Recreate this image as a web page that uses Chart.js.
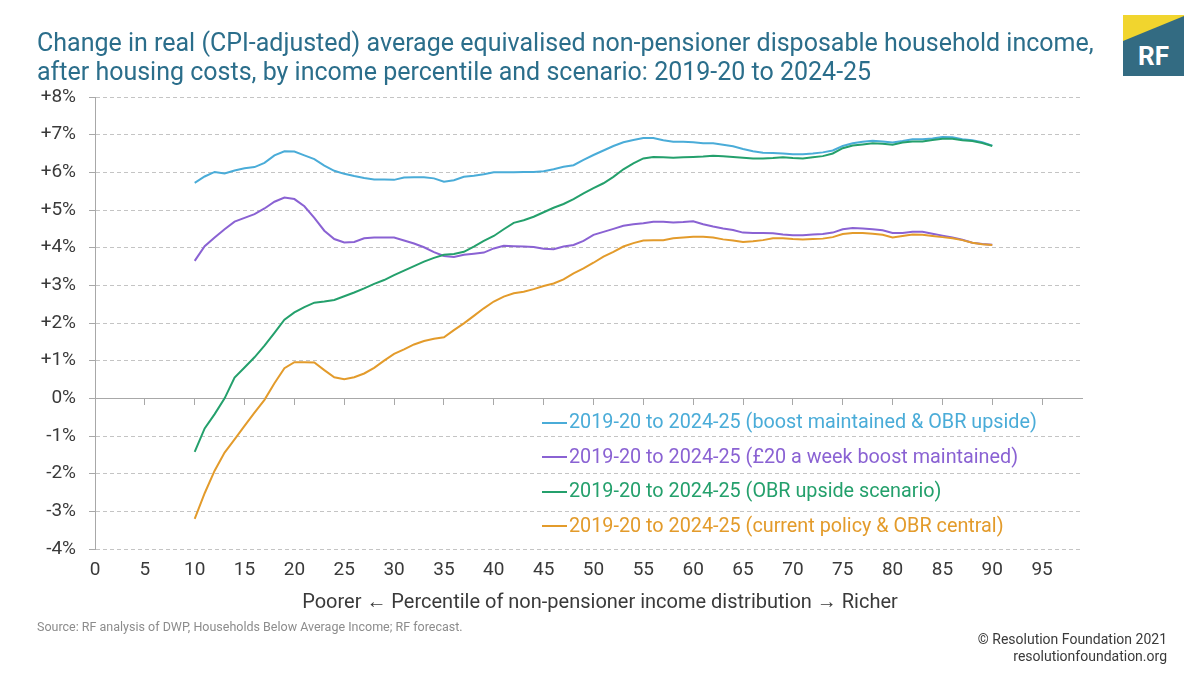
<!DOCTYPE html>
<html>
<head>
<meta charset="utf-8">
<script src="https://cdn.jsdelivr.net/npm/chart.js@4.4.1/dist/chart.umd.min.js"></script>
<style>
  body { margin: 0; background: #fff; font-family: Roboto, "Noto Sans", sans-serif; }
  #wrap { position: relative; width: 1200px; height: 675px; overflow: hidden; }
  #myChart { position: absolute; left: 0; top: 0; }
  .title { position: absolute; left: 37px; top: 28px; font-size: 25px; line-height: 29px; color: #2b6e8b; white-space: nowrap; }
  .xtitle { position: absolute; left: 0; width: 1200px; top: 589px; text-align: center; font-size: 20px; line-height: 24px; color: #3a3a3a; }
  .source { position: absolute; left: 37px; top: 619px; font-size: 12.5px; line-height: 16px; color: #8c8c8c; }
  .copy { position: absolute; right: 33px; top: 631px; font-size: 14px; line-height: 17px; color: #3a3a3a; text-align: right; }
  .logo { position: absolute; left: 1123px; top: 15px; }
  #legend { position: absolute; left: 542px; top: 405px; }
  .row { height: 34.5px; line-height: 34.5px; font-size: 19.8px; white-space: nowrap; }
  .row span.mark { display: inline-block; width: 25px; height: 2px; vertical-align: middle; margin-right: 2px; }
</style>
</head>
<body>
<div id="wrap">
  <canvas id="myChart" width="1200" height="675"></canvas>
  <div class="title">Change in real (CPI-adjusted) average equivalised non-pensioner disposable household income,<br>after housing costs, by income percentile and scenario: 2019-20 to 2024-25</div>
  <svg class="logo" width="61" height="61" viewBox="0 0 61 61">
    <rect x="0" y="0" width="61" height="61" fill="#336b82"/>
    <polygon points="0,0 61,0 61,1 0,26" fill="#f1d52e"/>
    <text x="30.5" y="50" text-anchor="middle" font-family="Roboto, sans-serif" font-weight="bold" font-size="26" fill="#fff">RF</text>
  </svg>
  <div id="legend"></div>
  <div class="xtitle">Poorer ← Percentile of non-pensioner income distribution → Richer</div>
  <div class="source">Source: RF analysis of DWP, Households Below Average Income; RF forecast.</div>
  <div class="copy">© Resolution Foundation 2021<br>resolutionfoundation.org</div>
</div>
<script>
// percentiles of the non-pensioner income distribution
const percentiles = [10, 11, 12, 13, 14, 15, 16, 17, 18, 19, 20, 21, 22, 23, 24, 25, 26, 27, 28, 29,
  30, 31, 32, 33, 34, 35, 36, 37, 38, 39, 40, 41, 42, 43, 44, 45, 46, 47, 48, 49,
  50, 51, 52, 53, 54, 55, 56, 57, 58, 59, 60, 61, 62, 63, 64, 65, 66, 67, 68, 69,
  70, 71, 72, 73, 74, 75, 76, 77, 78, 79, 80, 81, 82, 83, 84, 85, 86, 87, 88, 89, 90];

// boost maintained & OBR upside
const boostUpside = [5.72, 5.89, 6.01, 5.97, 6.05, 6.11, 6.14, 6.25, 6.45, 6.56,
  6.55, 6.45, 6.35, 6.18, 6.04, 5.96, 5.90, 5.85, 5.81, 5.81,
  5.80, 5.86, 5.87, 5.87, 5.84, 5.75, 5.79, 5.88, 5.91, 5.95,
  6.00, 6.00, 6.00, 6.01, 6.01, 6.03, 6.08, 6.15, 6.19, 6.33,
  6.46, 6.58, 6.70, 6.80, 6.86, 6.91, 6.91, 6.85, 6.81, 6.81,
  6.80, 6.77, 6.77, 6.73, 6.69, 6.62, 6.56, 6.52, 6.51, 6.50,
  6.48, 6.48, 6.50, 6.53, 6.58, 6.70, 6.77, 6.81, 6.84, 6.82,
  6.79, 6.83, 6.88, 6.88, 6.90, 6.94, 6.93, 6.88, 6.85, 6.80, 6.71];

// £20 a week boost maintained
const boostOnly = [3.65, 4.04, 4.27, 4.49, 4.69, 4.79, 4.89, 5.04, 5.22, 5.33,
  5.29, 5.10, 4.79, 4.45, 4.23, 4.14, 4.15, 4.25, 4.27, 4.27,
  4.27, 4.19, 4.11, 4.01, 3.88, 3.78, 3.75, 3.81, 3.84, 3.87,
  3.98, 4.05, 4.04, 4.03, 4.02, 3.97, 3.96, 4.03, 4.07, 4.18,
  4.34, 4.42, 4.50, 4.58, 4.62, 4.65, 4.69, 4.69, 4.67, 4.68,
  4.70, 4.62, 4.56, 4.51, 4.47, 4.40, 4.39, 4.39, 4.38, 4.35,
  4.33, 4.33, 4.35, 4.36, 4.40, 4.49, 4.52, 4.51, 4.49, 4.46,
  4.39, 4.39, 4.42, 4.42, 4.37, 4.32, 4.27, 4.21, 4.13, 4.10, 4.08];

// OBR upside scenario
const obrUpside = [-1.42, -0.80, -0.42, 0.00, 0.55, 0.82, 1.09, 1.40, 1.74, 2.09,
  2.28, 2.42, 2.54, 2.57, 2.61, 2.71, 2.81, 2.92, 3.04, 3.14,
  3.27, 3.39, 3.51, 3.63, 3.73, 3.81, 3.83, 3.89, 4.03, 4.18,
  4.31, 4.49, 4.66, 4.73, 4.82, 4.94, 5.06, 5.16, 5.29, 5.44,
  5.58, 5.71, 5.88, 6.08, 6.24, 6.37, 6.41, 6.40, 6.39, 6.40,
  6.41, 6.42, 6.44, 6.43, 6.41, 6.39, 6.37, 6.37, 6.38, 6.40,
  6.38, 6.37, 6.40, 6.43, 6.50, 6.64, 6.71, 6.74, 6.77, 6.76,
  6.73, 6.79, 6.82, 6.82, 6.86, 6.89, 6.89, 6.85, 6.83, 6.78, 6.70];

// current policy & OBR central
const currentPolicy = [-3.20, -2.52, -1.92, -1.44, -1.09, -0.73, -0.38, -0.04, 0.40, 0.80,
  0.96, 0.96, 0.95, 0.75, 0.56, 0.51, 0.56, 0.66, 0.81, 1.00,
  1.18, 1.30, 1.43, 1.52, 1.58, 1.62, 1.81, 1.99, 2.19, 2.39,
  2.57, 2.70, 2.79, 2.83, 2.90, 2.98, 3.05, 3.16, 3.32, 3.45,
  3.60, 3.76, 3.89, 4.03, 4.12, 4.19, 4.20, 4.20, 4.25, 4.27,
  4.29, 4.29, 4.27, 4.22, 4.19, 4.15, 4.17, 4.20, 4.25, 4.25,
  4.23, 4.22, 4.23, 4.24, 4.28, 4.36, 4.39, 4.39, 4.37, 4.34,
  4.27, 4.31, 4.35, 4.34, 4.31, 4.28, 4.25, 4.20, 4.13, 4.09, 4.07];

const seriesLabels = [
  '2019-20 to 2024-25 (boost maintained & OBR upside)',
  '2019-20 to 2024-25 (£20 a week boost maintained)',
  '2019-20 to 2024-25 (OBR upside scenario)',
  '2019-20 to 2024-25 (current policy & OBR central)'
];
const seriesValues = [boostUpside, boostOnly, obrUpside, currentPolicy];
const seriesColors = ['#4aacd8', '#8a62d3', '#24a06c', '#e39b2b'];

const tickColor = '#3a3a3a';
const axisColor = '#a8a8a8';
const tickFont = { family: 'Roboto', size: 19 };

const ctx = document.getElementById('myChart').getContext('2d');
const chart = new Chart(ctx, {
  type: 'line',
  data: {
    datasets: seriesValues.map((vals, i) => ({
      label: seriesLabels[i],
      borderColor: seriesColors[i],
      data: vals.map((v, j) => ({ x: percentiles[j], y: v })),
      order: 4 - i,
      fill: false
    }))
  },
  options: {
    responsive: false,
    animation: false,
    layout: { padding: { left: 0, top: 97, right: 118, bottom: 66 } },
    elements: {
      point: { radius: 0 },
      line: { borderWidth: 2, tension: 0 }
    },
    plugins: {
      legend: { display: false },
      tooltip: { enabled: false }
    },
    scales: {
      x: {
        type: 'linear',
        min: 0,
        max: 99,
        ticks: { stepSize: 5, includeBounds: false, padding: 10, color: tickColor, font: tickFont },
        grid: { display: false, drawTicks: false },
        border: { display: false },
        afterFit: (scale) => { scale.height = 60; }
      },
      // axis line with tick marks along the zero line
      x0: {
        type: 'linear',
        position: { y: 0 },
        min: 0,
        max: 99,
        ticks: { display: false, stepSize: 5, includeBounds: false },
        grid: { drawOnChartArea: false, drawTicks: true, tickLength: 6, color: axisColor },
        border: { color: axisColor }
      },
      y: {
        min: -4,
        max: 8,
        ticks: {
          stepSize: 1,
          padding: 13,
          color: tickColor,
          font: tickFont,
          callback: (v) => (v > 0 ? '+' + v + '%' : v + '%')
        },
        grid: {
          color: (c) => (c.tick && c.tick.value === 0 ? 'rgba(0,0,0,0)' : '#c4c4c4'),
          tickColor: axisColor,
          tickLength: 6
        },
        border: { color: axisColor, dash: [4, 3] },
        afterFit: (scale) => { scale.width = 95; }
      }
    }
  }
});

// legend inside the plot area
const legend = document.getElementById('legend');
seriesLabels.forEach((label, i) => {
  const row = document.createElement('div');
  row.className = 'row';
  row.style.color = seriesColors[i];
  const mark = document.createElement('span');
  mark.className = 'mark';
  mark.style.background = seriesColors[i];
  row.appendChild(mark);
  row.appendChild(document.createTextNode(label));
  legend.appendChild(row);
});
</script>
</body>
</html>
